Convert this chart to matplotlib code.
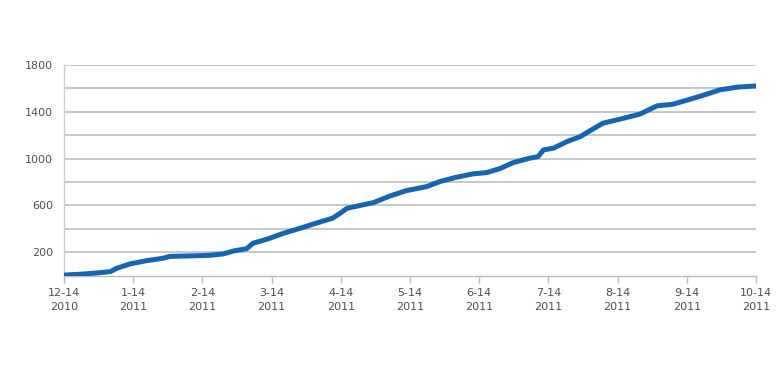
import matplotlib
matplotlib.use("Agg")
import matplotlib.pyplot as plt

# month tick labels (evenly spaced categories)
tick_labels = ["12-14\n2010", "1-14\n2011", "2-14\n2011", "3-14\n2011", "4-14\n2011",
               "5-14\n2011", "6-14\n2011", "7-14\n2011", "8-14\n2011", "9-14\n2011",
               "10-14\n2011"]

# positions in month units (0 = 12-14-2010) and cumulative values
months = [0.00, 0.30, 0.52, 0.67, 0.76, 0.95, 1.19, 1.43, 1.53, 1.87, 2.10,
          2.30, 2.45, 2.64, 2.73, 2.93, 3.17, 3.41, 3.64, 3.88, 3.99,
          4.09, 4.28, 4.47, 4.71, 4.95, 5.24, 5.43, 5.67, 5.91, 6.11,
          6.30, 6.49, 6.73, 6.85, 6.93, 7.07, 7.27, 7.46, 7.64, 7.79,
          8.03, 8.32, 8.57, 8.80, 9.05, 9.29, 9.48, 9.72, 10.01]
values = [5, 15, 26, 35, 63, 100, 128, 149, 165, 170, 174,
          186, 211, 231, 277, 311, 362, 405, 448, 491, 533,
          576, 600, 624, 681, 727, 761, 804, 841, 870, 881,
          915, 966, 1004, 1017, 1075, 1089, 1146, 1188, 1252, 1303,
          1337, 1380, 1451, 1465, 1508, 1551, 1588, 1610, 1622]

ytick_vals = [200, 600, 1000, 1400, 1800]
grid_vals = [200, 400, 600, 800, 1000, 1200, 1400, 1600, 1800]

fig = plt.figure(figsize=(7.8, 3.84), dpi=100)
ax = fig.add_axes([64/780, 1 - 275.7/384, (756-64)/780, (275.7-65)/384])

for g in grid_vals:
    ax.axhline(g, color="#c4c4c4", lw=1.3, zorder=1)

ax.plot(months, values, color="#1565b3", lw=3.6, solid_capstyle="round",
        solid_joinstyle="round", zorder=3)

ax.set_xlim(0, 10)
ax.set_ylim(0, 1800)
ax.set_xticks(range(len(tick_labels)))
ax.set_xticklabels(tick_labels, fontsize=8, color="#505050", linespacing=1.45)
ax.set_yticks(ytick_vals)
ax.set_yticklabels([str(v) for v in ytick_vals], fontsize=8, color="#505050")
ax.tick_params(axis="y", length=0, pad=8)
ax.tick_params(axis="x", length=5, color="#bbbbbb", width=1, pad=4)

for s in ["top", "right"]:
    ax.spines[s].set_visible(False)
ax.spines["left"].set_color("#cccccc")
ax.spines["bottom"].set_color("#bbbbbb")
ax.spines["left"].set_linewidth(1)
ax.spines["bottom"].set_linewidth(1)
ax.set_facecolor("white")

fig.savefig("out.png", dpi=100, facecolor="white")
